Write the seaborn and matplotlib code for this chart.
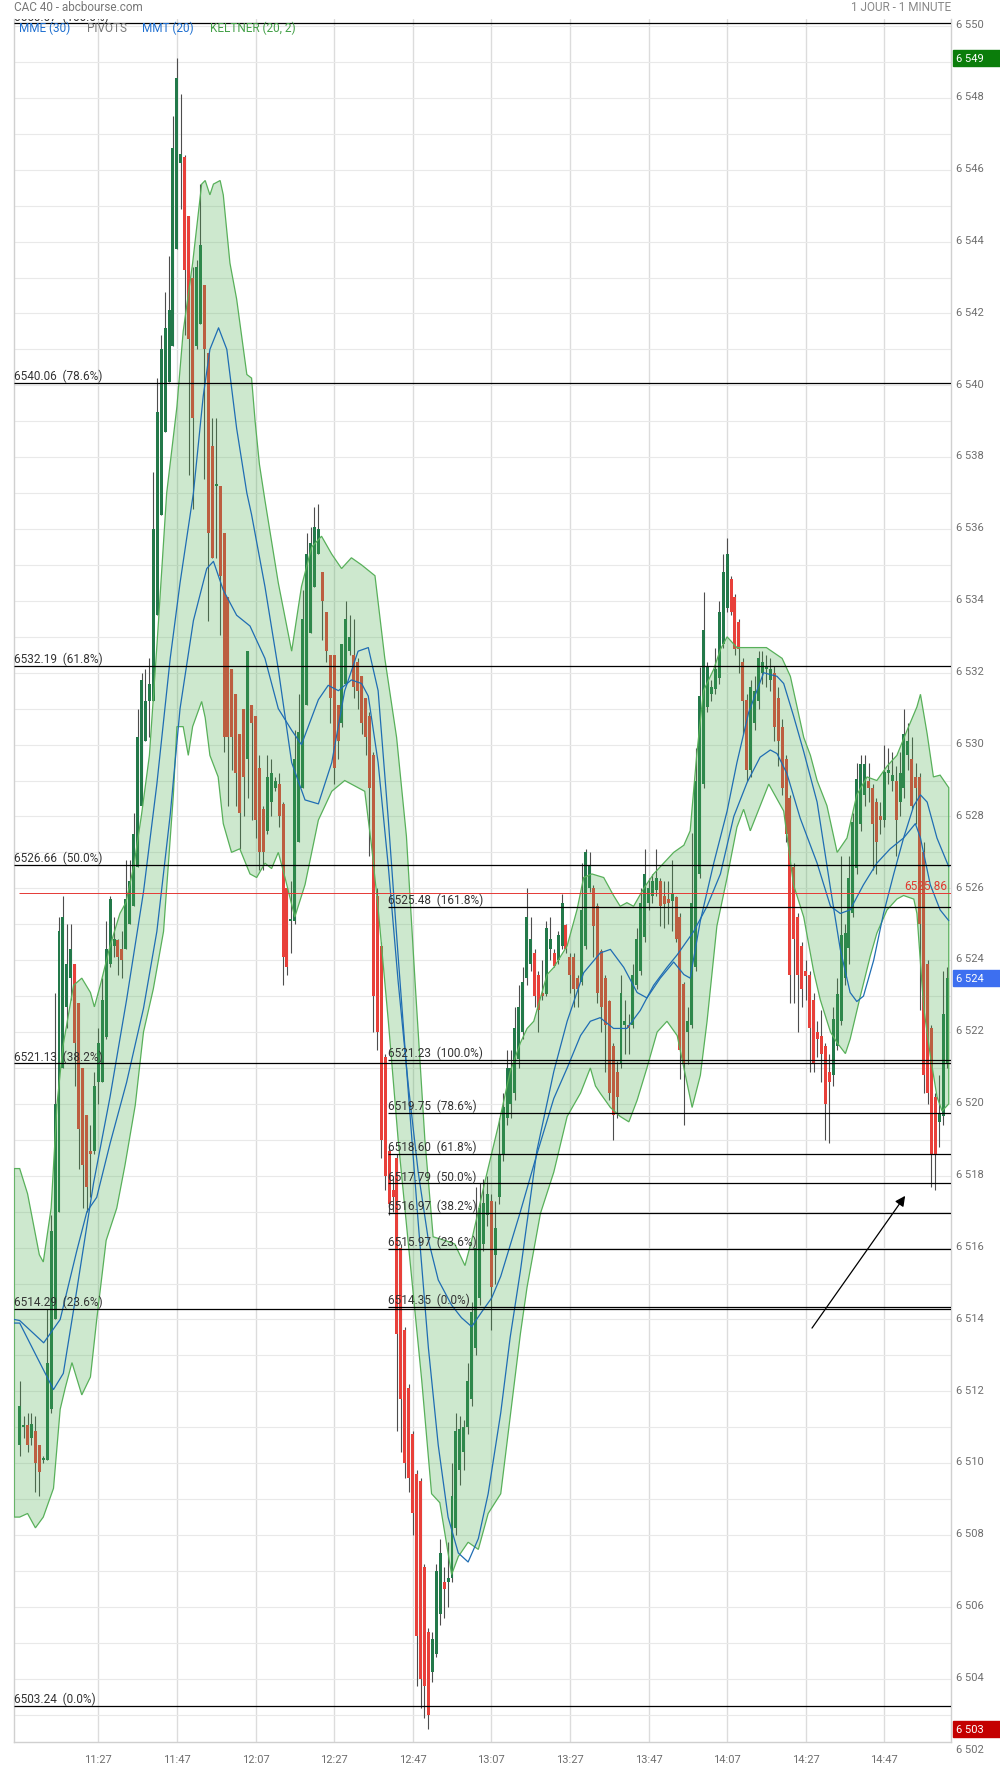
import numpy as np
import matplotlib
matplotlib.use("Agg")
import matplotlib.pyplot as plt
import matplotlib.transforms as mtransforms
from matplotlib.patches import Rectangle
import seaborn as sns

#---------------- DATA ----------------
first_bar = "11:07"   # one candle per minute

opens = [
    6510.5, 6511.0, 6511.05, 6510.7, 6510.9, 6510.5, 6510.1, 6510.1, 6511.5, 6514.0,
    6517.0, 6521.0, 6522.7, 6523.5, 6523.9, 6522.8, 6521.0, 6519.7, 6518.7, 6518.7,
    6520.6, 6520.6, 6521.85, 6523.9, 6524.4, 6524.55, 6524.3, 6524.3, 6525.0, 6525.5,
    6526.6, 6528.3, 6530.1, 6531.2, 6531.2, 6533.6, 6536.4, 6538.7, 6540.1, 6541.1,
    6543.8, 6546.2, 6546.35, 6544.7, 6543.0, 6541.1, 6541.7, 6542.8, 6540.9, 6538.3,
    6537.2, 6537.2, 6535.9, 6534.1, 6532.1, 6531.4, 6530.3, 6531.0, 6529.6, 6531.1,
    6530.8, 6529.35, 6528.2, 6527.6, 6528.4, 6528.8, 6528.9, 6528.35, 6526.0, 6525.1,
    6525.1, 6527.3, 6528.8, 6531.1, 6533.1, 6534.4, 6535.3, 6534.8, 6533.7, 6532.5,
    6532.5, 6531.1, 6530.6, 6531.7, 6532.6, 6532.5, 6532.3, 6531.9, 6531.3, 6530.8,
    6529.7, 6525.8, 6524.4, 6521.3, 6518.7, 6517.6, 6518.5, 6516.0, 6513.7, 6512.1,
    6510.8, 6509.7, 6509.5, 6507.1, 6505.3, 6504.2, 6504.7, 6505.8, 6506.7, 6506.7,
    6506.8, 6508.2, 6509.8, 6510.3, 6511.0, 6511.8, 6513.2, 6514.6, 6516.1, 6516.9,
    6517.3, 6515.8, 6517.4, 6518.6, 6519.6, 6520.0, 6520.3, 6521.25, 6522.0, 6523.5,
    6523.9, 6524.2, 6523.6, 6523.1, 6523.06, 6524.3, 6524.2, 6524.0, 6524.4, 6524.98,
    6524.1, 6524.1, 6523.5, 6523.4, 6524.4, 6526.0, 6526.0, 6525.5, 6524.25, 6523.5,
    6522.85, 6521.6, 6520.9, 6521.1, 6522.2, 6522.2, 6522.2, 6523.3, 6523.7, 6524.65,
    6525.6, 6525.8, 6525.95, 6526.2, 6525.8, 6525.7, 6525.65, 6525.75, 6525.2, 6523.35,
    6522.0, 6522.2, 6523.8, 6526.4, 6528.9, 6531.05, 6531.4, 6531.55, 6531.85, 6532.8,
    6533.8, 6534.6, 6534.1, 6533.4, 6532.3, 6531.25, 6529.3, 6530.6, 6531.2, 6532.0,
    6532.1, 6531.8, 6532.0, 6531.3, 6530.5, 6529.6, 6528.5, 6526.6, 6525.2, 6524.4,
    6523.7, 6523.6, 6522.9, 6522.0, 6521.9, 6521.6, 6520.9, 6520.8, 6521.6, 6522.3,
    6523.5, 6524.35, 6525.3, 6526.56, 6527.8, 6528.6, 6529.0, 6528.8, 6528.4, 6528.0,
    6527.9, 6529.2, 6529.0, 6529.0, 6528.4, 6528.8, 6529.7, 6529.6, 6529.1, 6529.1,
    6527.0, 6523.9, 6522.1, 6520.2, 6519.5, 6519.65, 6521.1]

highs = [
    6512.3, 6511.3, 6511.4, 6511.4, 6511.3, 6510.5, 6510.2, 6514.3, 6516.9, 6523.1,
    6525.2, 6525.8, 6525.0, 6525.0, 6523.9, 6522.8, 6521.0, 6519.7, 6519.4, 6520.9,
    6522.1, 6523.5, 6525.1, 6525.8, 6525.2, 6524.6, 6524.8, 6526.8, 6526.8, 6528.1,
    6531.0, 6532.0, 6532.1, 6532.4, 6537.6, 6540.2, 6541.4, 6542.6, 6543.6, 6547.5,
    6549.1, 6548.1, 6546.4, 6544.7, 6543.3, 6543.5, 6545.6, 6542.8, 6540.9, 6539.1,
    6539.1, 6537.2, 6535.9, 6534.1, 6532.1, 6531.4, 6530.3, 6531.0, 6532.6, 6531.1,
    6530.8, 6529.7, 6528.3, 6529.7, 6529.6, 6529.1, 6529.2, 6528.4, 6526.0, 6526.2,
    6530.4, 6531.4, 6534.3, 6535.9, 6536.05, 6536.6, 6536.7, 6534.8, 6533.7, 6532.5,
    6532.5, 6531.1, 6532.8, 6534.0, 6533.6, 6533.5, 6532.4, 6531.9, 6531.3, 6530.9,
    6529.8, 6526.0, 6524.5, 6521.4, 6518.8, 6518.0, 6518.6, 6516.1, 6513.8, 6512.2,
    6510.9, 6509.8, 6509.6, 6507.2, 6505.4, 6505.3, 6507.2, 6507.9, 6507.1, 6507.8,
    6510.0, 6511.4, 6511.3, 6511.2, 6512.8, 6514.5, 6517.7, 6517.8, 6517.9, 6518.0,
    6517.5, 6517.3, 6519.6, 6520.3, 6521.5, 6521.5, 6522.7, 6523.3, 6523.8, 6526.0,
    6525.2, 6524.3, 6523.7, 6524.0, 6525.1, 6525.2, 6524.3, 6524.8, 6525.85, 6525.0,
    6524.2, 6524.2, 6523.6, 6526.7, 6527.1, 6527.0, 6526.1, 6525.6, 6524.3, 6523.6,
    6522.9, 6521.7, 6521.2, 6523.6, 6522.9, 6522.5, 6523.9, 6524.9, 6526.0, 6527.1,
    6526.3, 6526.4, 6527.1, 6526.3, 6526.2, 6526.2, 6526.8, 6525.8, 6525.3, 6523.4,
    6522.7, 6527.55, 6529.9, 6532.15, 6534.25, 6532.3, 6531.8, 6532.7, 6534.0, 6535.3,
    6535.75, 6534.7, 6534.2, 6533.5, 6532.4, 6531.4, 6531.8, 6531.9, 6532.6, 6532.6,
    6532.5, 6532.4, 6532.2, 6531.6, 6530.7, 6529.7, 6528.6, 6526.7, 6525.3, 6524.5,
    6524.0, 6523.7, 6523.1, 6522.3, 6522.6, 6521.7, 6521.4, 6522.7, 6523.5, 6526.9,
    6525.0, 6526.9, 6528.1, 6529.5, 6529.7, 6529.7, 6529.5, 6528.9, 6528.5, 6528.4,
    6530.0, 6529.9, 6529.8, 6529.4, 6529.8, 6531.0, 6530.6, 6530.2, 6529.5, 6529.2,
    6527.3, 6524.0, 6522.2, 6520.3, 6520.8, 6523.7, 6523.8]

lows = [
    6510.2, 6510.7, 6510.3, 6510.5, 6509.2, 6509.1, 6510.0, 6510.1, 6511.4, 6514.0,
    6517.0, 6521.0, 6522.1, 6522.9, 6520.5, 6518.2, 6517.1, 6517.0, 6517.4, 6518.6,
    6520.0, 6520.6, 6521.8, 6523.8, 6524.1, 6523.6, 6523.5, 6524.3, 6525.0, 6525.5,
    6526.6, 6528.3, 6530.1, 6530.2, 6531.2, 6533.6, 6536.4, 6538.7, 6540.1, 6541.1,
    6543.8, 6544.9, 6541.4, 6537.5, 6536.55, 6541.0, 6541.7, 6537.4, 6533.45, 6535.2,
    6535.2, 6533.05, 6529.8, 6528.3, 6529.3, 6528.3, 6527.1, 6528.0, 6528.5, 6527.9,
    6527.4, 6526.5, 6526.5, 6527.5, 6528.0, 6528.7, 6527.7, 6523.3, 6523.6, 6524.2,
    6525.0, 6527.3, 6528.8, 6531.1, 6533.1, 6534.4, 6535.3, 6532.9, 6532.3, 6530.6,
    6528.9, 6529.6, 6530.5, 6531.7, 6532.5, 6531.3, 6531.0, 6530.3, 6529.7, 6526.9,
    6522.0, 6521.5, 6518.5, 6517.6, 6516.9, 6517.0, 6510.9, 6510.3, 6509.6, 6509.2,
    6508.0, 6503.8, 6503.2, 6502.9, 6502.6, 6503.9, 6504.6, 6505.5, 6505.7, 6506.0,
    6506.7, 6508.0, 6509.4, 6509.8, 6510.8, 6511.6, 6513.0, 6514.4, 6515.9, 6516.6,
    6513.7, 6515.0, 6517.2, 6518.4, 6519.4, 6519.6, 6520.1, 6521.0, 6521.8, 6523.3,
    6523.7, 6522.7, 6522.0, 6522.9, 6523.0, 6524.0, 6523.8, 6523.9, 6524.3, 6524.2,
    6523.1, 6522.7, 6522.7, 6523.3, 6524.3, 6525.9, 6524.1, 6522.8, 6522.0, 6520.9,
    6520.1, 6519.0, 6519.6, 6521.0, 6521.4, 6521.4, 6522.1, 6523.2, 6523.6, 6524.5,
    6525.4, 6525.6, 6525.8, 6524.95, 6524.9, 6525.0, 6524.8, 6524.5, 6520.7, 6519.4,
    6521.1, 6522.1, 6523.7, 6526.3, 6528.8, 6530.9, 6531.2, 6531.4, 6531.7, 6532.7,
    6533.7, 6533.6, 6532.5, 6532.0, 6530.3, 6529.0, 6529.1, 6530.4, 6531.0, 6531.7,
    6531.6, 6531.5, 6530.1, 6529.4, 6528.6, 6527.3, 6522.8, 6522.8, 6522.0, 6522.7,
    6522.9, 6520.9, 6520.9, 6521.3, 6520.6, 6519.0, 6518.9, 6520.5, 6521.5, 6522.2,
    6523.3, 6523.9, 6525.2, 6526.4, 6527.6, 6528.3, 6528.4, 6526.5, 6526.4, 6527.5,
    6527.7, 6528.9, 6528.7, 6526.9, 6528.0, 6528.5, 6529.3, 6528.2, 6527.8, 6522.6,
    6520.3, 6520.0, 6517.7, 6517.6, 6518.8, 6519.4, 6521.0]

closes = [
    6511.6, 6511.0, 6510.5, 6511.1, 6510.0, 6509.75, 6510.15, 6512.8, 6516.45, 6520.0,
    6524.8, 6525.2, 6523.9, 6524.3, 6521.7, 6519.3, 6518.3, 6517.7, 6518.6, 6520.5,
    6521.7, 6522.9, 6524.3, 6525.7, 6524.6, 6524.1, 6524.0, 6525.7, 6526.2, 6527.5,
    6530.2, 6531.8, 6531.2, 6531.7, 6536.0, 6539.25, 6541.0, 6541.6, 6542.1, 6546.6,
    6548.55, 6546.45, 6543.2, 6541.3, 6539.1, 6543.3, 6543.9, 6541.0, 6535.9, 6535.2,
    6537.25, 6534.7, 6530.2, 6530.2, 6530.2, 6529.2, 6528.1, 6529.1, 6532.6, 6530.6,
    6527.9, 6527.0, 6527.0, 6529.1, 6529.2, 6529.0, 6528.0, 6524.1, 6523.8, 6525.15,
    6529.6, 6530.35, 6533.5, 6535.3, 6535.6, 6536.05, 6536.0, 6534.0, 6532.6, 6531.3,
    6529.35, 6530.1, 6532.8, 6533.5, 6533.0, 6531.6, 6531.5, 6530.6, 6530.2, 6528.8,
    6523.0, 6522.0, 6519.0, 6518.0, 6517.2, 6517.4, 6513.6, 6511.8, 6510.0, 6509.6,
    6508.6, 6505.2, 6504.0, 6503.8, 6503.0, 6505.1, 6507.0, 6507.5, 6506.5, 6506.8,
    6509.1, 6510.9, 6510.95, 6511.0, 6512.3, 6514.2, 6516.0, 6517.1, 6517.25, 6517.5,
    6514.9, 6516.55, 6518.6, 6519.9, 6521.0, 6521.0, 6522.1, 6522.7, 6523.4, 6525.2,
    6524.6, 6523.0, 6522.6, 6523.0, 6524.9, 6524.6, 6523.85, 6524.7, 6525.6, 6524.3,
    6523.6, 6523.2, 6523.2, 6525.4, 6527.0, 6526.65, 6524.95, 6523.1, 6522.7, 6522.2,
    6520.3, 6519.7, 6520.2, 6523.1, 6522.3, 6522.1, 6523.6, 6524.6, 6525.6, 6526.4,
    6526.0, 6526.2, 6526.3, 6525.5, 6525.55, 6525.6, 6525.85, 6524.6, 6521.5, 6521.1,
    6522.3, 6525.6, 6529.0, 6531.35, 6533.2, 6532.15, 6531.6, 6532.1, 6533.7, 6534.8,
    6535.3, 6533.7, 6532.65, 6532.65, 6531.2, 6529.3, 6531.6, 6531.5, 6532.4, 6532.3,
    6532.2, 6532.1, 6530.5, 6530.1, 6528.8, 6527.5, 6523.6, 6524.6, 6523.6, 6523.2,
    6523.55, 6522.1, 6521.1, 6521.8, 6521.4, 6520.0, 6520.6, 6522.35, 6523.05, 6524.7,
    6524.75, 6526.3, 6527.85, 6529.03, 6529.45, 6529.45, 6528.8, 6527.8, 6527.3, 6527.9,
    6529.25, 6529.3, 6529.15, 6527.9, 6529.2, 6530.3, 6530.1, 6528.3, 6528.8, 6525.0,
    6520.8, 6520.3, 6518.6, 6518.6, 6519.75, 6522.5, 6523.5]

# Keltner (20, 2) band edges (minutes after first bar, price)
kelt_up_t = [-1.4, 0, 2, 5, 6, 8, 9.5, 11, 13.7, 15.8, 18, 19, 20.5, 23, 25.5, 27, 29, 31, 33, 35,
             37.4, 40, 41.6, 44, 46.3, 47.2, 48.4, 49.3, 51, 51.8, 53.5, 55.2, 57.8, 59, 59.9, 61,
             62.4, 65.8, 69.2, 71.7, 74.3, 76.8, 79.4, 81.9, 84.4, 87.0, 90.4, 92.9, 95.9, 98.4,
             100.6, 103.1, 105.2, 108.2, 110.7, 113.3, 115.0, 118.4, 121.8, 124.8, 127.4, 129.1,
             130.8, 134.2, 135.9, 139.3, 141.8, 143.5, 145.6, 148.6, 151.1, 152.8, 154.5, 156.2,
             158.8, 161.3, 164.7, 166.4, 169, 170.6, 172.3, 174, 176.6, 178.3, 180, 182.5, 185,
             190, 194, 196.1, 199.5, 201.2, 202.9, 205.4, 208, 210.5, 213, 215.6, 218.1, 220.7,
             223.2, 225.8, 228.3, 229.2, 230.9, 232.5, 234.2, 236.4]
kelt_up = [6518.2, 6518.2, 6517.5, 6515.8, 6515.6, 6517.1, 6520.0, 6521.6, 6523.3, 6523.5, 6523.1,
           6522.7, 6523.3, 6524.4, 6525.3, 6525.6, 6526.6, 6528.05, 6529.7, 6532.9, 6537.0, 6539.4,
           6541.5, 6543.4, 6545.6, 6545.7, 6545.3, 6545.6, 6545.7, 6545.3, 6543.4, 6542.4, 6540.3,
           6540.2, 6539.0, 6537.8, 6536.8, 6534.5, 6532.6, 6534.4, 6535.5, 6535.8, 6535.3, 6534.9,
           6535.2, 6535.0, 6534.7, 6532.4, 6530.2, 6527.45, 6523.4, 6519.0, 6516.3, 6516.2, 6516.1,
           6515.5, 6516.2, 6517.85, 6519.4, 6520.9, 6521.7, 6522.1, 6522.3, 6523.6, 6523.8, 6524.4,
           6525.4, 6526.3, 6526.4, 6526.3, 6525.8, 6525.5, 6525.6, 6525.5, 6526.0, 6526.4, 6526.8,
           6527.0, 6527.2, 6527.6, 6529.75, 6531.5, 6532.1, 6532.65, 6533.0, 6532.7, 6532.7, 6532.7,
           6532.4, 6531.9, 6530.2, 6529.7, 6529.0, 6528.3, 6527.0, 6527.4, 6528.6, 6529.1, 6529.0,
           6529.4, 6529.7, 6530.4, 6531.05, 6531.4, 6530.3, 6529.1, 6529.15, 6528.8]
kelt_lo_t = [-1.4, 0, 2, 4, 6, 8.6, 10.3, 11.6, 13.3, 15.8, 18, 19.6, 22, 24.7, 26.8, 29.4, 31.5,
             34, 36.6, 39.1, 40, 41.6, 42.9, 44, 46.3, 47.2, 48.4, 50.5, 51.8, 53.9, 56, 58.6, 60.3,
             62.4, 64.1, 65.8, 67.5, 70.0, 72.6, 76.0, 79.4, 82.7, 86.1, 87.8, 89.5, 91.2, 93.8,
             96.3, 99.7, 102.3, 104.8, 106.9, 109.9, 111.6, 114.1, 116.7, 119.2, 122.4, 127.4,
             129.1, 132.5, 135.9, 139.3, 142.7, 145.2, 146.5, 147.7, 150.3, 152.8, 155, 157.1,
             159.6, 162.2, 164.7, 167.3, 169, 171.1, 173.2, 174.9, 177.4, 180, 182.5, 184.2, 185.9,
             190.6, 194.4, 196.9, 199.5, 202, 203.7, 206.3, 208, 210.1, 211.3, 213.9, 216.4, 218.1,
             220.7, 223.2, 224.9, 227.5, 228.3, 230, 231.7, 233.4, 234.7, 236.4]
kelt_lo = [6508.5, 6508.5, 6508.6, 6508.2, 6508.5, 6509.3, 6511.5, 6512.1, 6512.8, 6511.9, 6512.4,
           6514.0, 6516.2, 6517.1, 6518.3, 6519.96, 6522.0, 6523.2, 6524.8, 6528.6, 6530.5, 6530.5,
           6529.7, 6530.5, 6531.2, 6530.75, 6529.7, 6529.1, 6527.8, 6527.0, 6527.1, 6526.4, 6526.3,
           6526.7, 6526.55, 6527.0, 6526.3, 6525.2, 6526.1, 6527.9, 6528.7, 6529.0, 6528.8, 6528.7,
           6527.2, 6525.45, 6522.3, 6519.0, 6515.2, 6512.3, 6509.15, 6508.9, 6506.9, 6507.4, 6507.8,
           6507.6, 6508.6, 6509.15, 6513.6, 6514.9, 6516.95, 6518.1, 6519.65, 6520.3, 6521.0,
           6520.5, 6520.3, 6519.9, 6519.65, 6519.5, 6520.1, 6521.0, 6522.0, 6522.3, 6521.9, 6521.0,
           6519.9, 6520.8, 6522.3, 6524.95, 6526.3, 6527.7, 6528.2, 6527.6, 6528.9, 6528.15, 6526.1,
           6525.2, 6523.7, 6522.9, 6522.0, 6521.7, 6521.4, 6521.8, 6523.0, 6524.1, 6524.75, 6525.4,
           6525.7, 6525.8, 6525.7, 6525.3, 6522.7, 6521.35, 6520.2, 6519.8, 6520.0]

# the two moving averages (MMT 20 reacts faster, MME 30 slower)
ma_fast_t = [-1.4, 0, 4.4, 8.6, 11.1, 14.5, 18.8, 23, 27.2, 31.5, 34.9, 38.3, 40.8, 44.2, 46.7, 48.4,
             50.6, 52.7, 55.2, 57.8, 59.0, 62.4, 65.8, 69.2, 72.6, 76.0, 79.4, 82.7, 86.1, 88.7,
             91.2, 93.8, 96.3, 98.9, 101.4, 104.0, 106.5, 109.0, 111.6, 114.1, 116.7, 119.2, 122.4,
             124.8, 127.4, 131.6, 135.9, 139.3, 143.5, 147.7, 150.3, 153.7, 157.1, 159.6, 163,
             166.4, 169, 170.6, 173.2, 176.6, 180, 182.5, 185.5, 189.3, 192.7, 194.4, 196.9, 199.5,
             202.9, 206.3, 208.8, 211.3, 213, 214.7, 217.3, 219.8, 222.4, 224.9, 227.5, 229.2,
             230.9, 233.4, 236.4]
ma_fast = [6513.9, 6513.9, 6512.95, 6512.05, 6512.5, 6514.8, 6517.8, 6520.2, 6522.9, 6525.9, 6528.9,
           6532.4, 6534.5, 6537.0, 6539.7, 6541.0, 6541.6, 6541.0, 6538.8, 6537.0, 6536.4, 6534.4,
           6532.1, 6529.5, 6528.46, 6528.35, 6529.5, 6531.5, 6532.6, 6532.7, 6531.5, 6527.9,
           6524.1, 6520.3, 6516.7, 6513.2, 6510.5, 6508.5, 6507.5, 6507.25, 6507.9, 6509.15,
           6511.4, 6513.5, 6515.35, 6518.7, 6520.9, 6522.3, 6523.65, 6524.2, 6524.3, 6523.8,
           6523.1, 6522.95, 6523.5, 6523.95, 6523.6, 6523.5, 6525.1, 6526.7, 6528.15, 6529.5,
           6530.9, 6532.0, 6531.9, 6531.7, 6530.8, 6529.8, 6528.4, 6526.0, 6524.3, 6523.1,
           6522.85, 6523.0, 6524.0, 6525.3, 6526.4, 6527.4, 6528.3, 6528.6, 6528.4, 6527.4, 6526.6]
ma_slow_t = [-1.4, 0, 6.1, 10.3, 14.5, 17.1, 19.6, 23, 27.2, 31.5, 34.9, 38.3, 40.8, 44.2, 47.6,
             49.3, 51.8, 55.2, 58.6, 62.4, 65.8, 69.2, 71.7, 76.0, 78.5, 81.1, 84.4, 87.0, 88.7,
             91.2, 93.8, 96.3, 98.9, 101.4, 104.0, 106.5, 109.9, 112.4, 115.0, 117.5, 120.1, 122.4,
             127.4, 131.6, 135.9, 139.3, 142.7, 145.2, 147.7, 151.1, 154.5, 157.9, 161.3, 164.7,
             167.3, 171.5, 174.9, 178.3, 181.7, 185.1, 188.4, 191, 192.7, 195.2, 198.6, 202.9,
             206.3, 208.8, 211.3, 214.7, 218.1, 221.5, 224.9, 227.9, 229.2, 231.7, 234.2, 236.4]
ma_slow = [6514.0, 6513.97, 6513.35, 6514.0, 6515.9, 6517.0, 6517.4, 6518.9, 6520.6, 6522.66,
           6524.8, 6528.05, 6531.0, 6533.45, 6534.9, 6535.1, 6534.3, 6533.6, 6533.3, 6532.4,
           6531.0, 6530.4, 6530.0, 6531.25, 6531.65, 6531.5, 6531.8, 6531.7, 6531.35, 6529.5,
           6526.6, 6523.4, 6520.5, 6518.1, 6516.2, 6515.1, 6514.4, 6514.05, 6513.8, 6514.2,
           6514.6, 6515.2, 6517.0, 6518.6, 6520.15, 6521.0, 6521.9, 6522.3, 6522.4, 6522.1,
           6522.1, 6522.6, 6523.3, 6523.8, 6524.15, 6524.8, 6525.5, 6526.4, 6528.0, 6528.95,
           6529.65, 6529.85, 6529.75, 6529.2, 6527.95, 6526.7, 6525.5, 6525.3, 6525.4, 6526.1,
           6526.7, 6527.1, 6527.4, 6527.8, 6527.4, 6526.1, 6525.4, 6525.1]

# Fibonacci retracements
fib_left_vals = [6550.07, 6540.06, 6532.19, 6526.66, 6521.13, 6514.29, 6503.24]
fib_left_pct = ["100.0%", "78.6%", "61.8%", "50.0%", "38.2%", "23.6%", "0.0%"]
fib_right_vals = [6525.48, 6521.23, 6519.75, 6518.60, 6517.79, 6516.97, 6515.97, 6514.35]
fib_right_pct = ["161.8%", "100.0%", "78.6%", "61.8%", "50.0%", "38.2%", "23.6%", "0.0%"]

ref_price = 6525.86
xtick_labels = ["11:27", "11:47", "12:07", "12:27", "12:47", "13:07",
                "13:27", "13:47", "14:07", "14:27", "14:47"]
ytick_vals = list(range(6502, 6551, 2))


def to_min(s):
    h, m = s.split(":")
    return int(h) * 60 + int(m)


def fmt_price(v):
    s = str(int(np.floor(v + 0.5)))
    return s[0] + " " + s[1:]


#---------------- STYLE ----------------
sns.set_theme(style="white")
plt.rcParams["font.family"] = ["Roboto", "DejaVu Sans"]

GREEN = "#23794a"
RED = "#e8403a"
BLUE = "#1f6db3"
GREY = "#6e6e6e"

W, H = 1000, 1774
fig = plt.figure(figsize=(W / 100, H / 100), dpi=100)
ax = fig.add_axes([14 / W, 1 - 1743 / H, 937 / W, 1723 / H])

XMIN, XMAX = 665.55, 903.97
ax.set_xlim(XMIN, XMAX)
ax.set_ylim(6502.24, 6550.195)

t0 = to_min(first_bar)
t = np.arange(len(opens)) + t0
o, h, l, c = map(np.array, (opens, highs, lows, closes))

#---------------- GRID / AXES ----------------
ax.set_yticks(np.arange(6503, 6551, 1))
ax.set_xticks([to_min(s) for s in xtick_labels])
ax.set_xticklabels(xtick_labels)
ax.tick_params(axis="y", left=False, right=False, labelleft=False)
ax.tick_params(axis="x", length=0, pad=9, labelsize=8, labelcolor=GREY)
ax.grid(axis="y", color="#e9e9e9", lw=0.8)
ax.grid(axis="x", color="#dcdcdc", lw=1.0)
ax.set_axisbelow(True)
ax.spines["top"].set_visible(False)
for sp in ["left", "right", "bottom"]:
    ax.spines[sp].set_color("#d0d0d0")
    ax.spines[sp].set_linewidth(1.0)

#---------------- CANDLES ----------------
colors = np.where(c >= o, GREEN, RED)
ax.vlines(t, l, h, color="#4d4d4d", lw=0.8, zorder=2)
ax.bar(t, np.maximum(np.abs(c - o), 0.05), bottom=np.minimum(o, c), width=0.76,
       color=colors, lw=0, zorder=2.5)

#---------------- KELTNER BAND ----------------
px = np.concatenate([np.array(kelt_up_t), np.array(kelt_lo_t)[::-1]]) + t0
py = np.concatenate([np.array(kelt_up), np.array(kelt_lo)[::-1]])
ax.fill(px, py, facecolor=(0.298, 0.686, 0.314, 0.28), edgecolor="#58b05a", lw=0.9, zorder=3)

#---------------- MOVING AVERAGES ----------------
sns.lineplot(x=np.array(ma_fast_t) + t0, y=ma_fast, ax=ax, color=BLUE, lw=0.9,
             estimator=None, sort=False, zorder=4)
sns.lineplot(x=np.array(ma_slow_t) + t0, y=ma_slow, ax=ax, color=BLUE, lw=0.9,
             estimator=None, sort=False, zorder=4)

#---------------- FIBONACCI LEVELS ----------------
fib_right_start = 760.7
for vals, pcts, x0 in [(fib_left_vals, fib_left_pct, XMIN),
                       (fib_right_vals, fib_right_pct, fib_right_start)]:
    for v, p in zip(vals, pcts):
        ax.hlines(v, x0, XMAX, color="black", lw=0.9, zorder=5)
        ax.annotate(f"{v:.2f}  ({p})", xy=(x0, v), xytext=(0.3, 0.5),
                    textcoords="offset points", ha="left", va="bottom",
                    fontsize=8.5, color="#333333", zorder=6, clip_on=True)

# reference price line
ax.hlines(ref_price, t0 - 0.1, XMAX, color="#e53935", lw=0.7, zorder=5)
ax.annotate(f"{ref_price:.2f}", xy=(XMAX, ref_price), xytext=(-3, 0.8),
            textcoords="offset points", ha="right", va="bottom",
            fontsize=8.5, color="#e0392f", zorder=6)

# arrow
ax.annotate("", xy=(892.3, 6517.44), xytext=(868.6, 6513.76),
            arrowprops=dict(arrowstyle="-|>", color="black", lw=0.9,
                            mutation_scale=15, shrinkA=0, shrinkB=0), zorder=6)

#---------------- RIGHT PRICE SCALE ----------------
trans = mtransforms.blended_transform_factory(ax.transAxes, ax.transData)
for v in ytick_vals:
    ax.text(1 + 5 / 937, v + 0.05, fmt_price(v), transform=trans, ha="left", va="center",
            fontsize=8, color=GREY, clip_on=False)

box_h = 16 / 35.93
for v, col in [(h.max(), "#0b7d0b"), (c[-1], "#3d6ff0"), (l.min(), "#c40000")]:
    ax.add_patch(Rectangle((1 + 1.7 / 937, v - box_h / 2), 47.3 / 937, box_h,
                           transform=trans, color=col, clip_on=False, zorder=7))
    ax.text(1 + 5 / 937, v, fmt_price(v), transform=trans, ha="left", va="center",
            fontsize=8, color="white", clip_on=False, zorder=8)

#---------------- HEADER / LEGEND ----------------
fig.text(14 / W, 1 - 7.5 / H, "CAC 40 - abcbourse.com", ha="left", va="center",
         fontsize=8.5, color="#777777")
fig.text(951 / W, 1 - 7.5 / H, "1 JOUR - 1 MINUTE", ha="right", va="center",
         fontsize=8.5, color="#888888")
for x, s, col in [(19, "MME (30)", "#1e6fd0"), (86.7, "PIVOTS", "#777777"),
                  (142.3, "MMT (20)", "#1e6fd0"), (210, "KELTNER (20, 2)", "#43a047")]:
    fig.text(x / W, 1 - 28.5 / H, s, ha="left", va="center", fontsize=8.5, color=col, zorder=10)

fig.savefig("out.png", dpi=100)
